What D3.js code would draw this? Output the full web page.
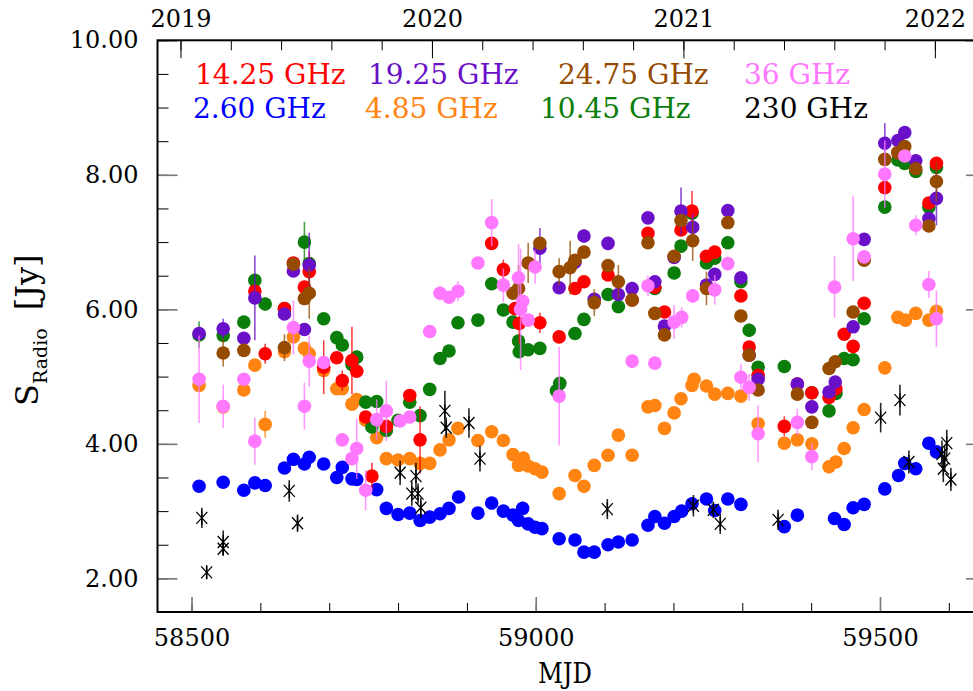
<!DOCTYPE html>
<html>
<head>
<meta charset="utf-8">
<script src="https://cdn.jsdelivr.net/npm/d3@7/dist/d3.min.js"></script>
<style>
body { margin: 0; background: #fff; }
svg text { font-family: "DejaVu Serif", serif; }
</style>
</head>
<body>
<svg width="973" height="691"></svg>
<script>
// [MJD, flux density (Jy), error]
var s260 = [[58511,3.37,0],[58546,3.43,0],[58576,3.31,0],[58592,3.42,0],[58607,3.38,0],[58635,3.64,0],[58648,3.77,0],
  [58664,3.70,0],[58671,3.80,0],[58692,3.70,0],[58711,3.50,0],[58719,3.65,0],[58733,3.48,0],[58740,3.47,0],[58769,3.32,0],
  [58783,3.04,0],[58800,2.95,0],[58817,2.97,0],[58832,2.86,0],[58846,2.91,0],[58861,2.96,0],[58874,3.04,0],[58888,3.21,0],
  [58916,2.97,0],[58936,3.12,0],[58953,3.00,0],[58967,2.94,0],[58975,2.86,0],[58981,3.04,0.1],[58989,2.81,0],[58999,2.76,0],
  [59009,2.74,0],[59034,2.59,0],[59057,2.57,0],[59070,2.39,0],[59085,2.39,0],[59105,2.50,0],[59120,2.54,0],[59140,2.57,0],
  [59163,2.79,0],[59173,2.92,0],[59187,2.82,0],[59201,2.92,0],[59212,3.00,0],[59227,3.11,0],[59248,3.18,0],[59260,3.01,0],
  [59279,3.18,0],[59298,3.10,0],[59361,2.77,0],[59380,2.94,0],[59434,2.89,0],[59448,2.80,0],[59461,3.05,0],[59477,3.10,0],
  [59507,3.33,0],[59527,3.53,0],[59536,3.71,0],[59552,3.63,0],[59571,4.01,0],[59582,3.88,0]];

var s485 = [[58511,4.87,0],[58546,4.55,0],[58576,4.80,0],[58592,5.17,0],[58607,4.29,0.2],[58635,5.37,0],[58648,5.59,0],
  [58664,5.42,0],[58671,5.34,0],[58692,5.09,0],[58711,4.82,0],[58719,4.82,0],[58733,4.59,0],[58740,4.66,0],[58753,4.35,0],
  [58769,4.09,0],[58783,3.78,0],[58800,3.76,0],[58817,3.78,0],[58832,3.71,0],[58846,3.71,0],[58861,3.91,0],[58874,4.06,0],
  [58887,4.23,0],[58916,4.05,0],[58936,4.18,0],[58953,4.05,0],[58967,3.84,0],[58975,3.68,0],[58982,3.79,0],[58989,3.67,0],
  [58999,3.63,0],[59009,3.58,0],[59034,3.26,0],[59057,3.53,0],[59070,3.37,0],[59085,3.68,0],[59105,3.83,0],[59120,4.13,0],
  [59140,3.83,0],[59163,4.55,0],[59173,4.57,0],[59187,4.23,0],[59201,4.46,0],[59211,4.67,0],[59227,4.87,0],[59230,4.96,0],
  [59248,4.86,0],[59260,4.74,0],[59279,4.75,0],[59298,4.71,0],[59323,4.30,0],[59361,4.01,0],[59380,4.06,0],[59401,4.00,0],
  [59426,3.66,0],[59436,3.73,0],[59448,3.93,0],[59461,4.24,0],[59477,4.51,0],[59507,5.13,0],[59526,5.88,0],[59537,5.84,0],
  [59552,5.94,0],[59571,5.84,0],[59582,5.97,0]];

var s1045 = [[58511,5.62,0.2],[58546,5.61,0],[58576,5.81,0],[58592,6.43,0],[58607,6.08,0.1],[58635,6.01,0],[58664,7.00,0.3],
  [58671,6.68,0],[58692,5.86,0],[58711,5.58,0],[58719,5.47,0],[58733,5.18,0],[58740,5.29,0.1],[58753,4.62,0],[58762,4.25,0],
  [58769,4.63,0],[58783,4.20,0],[58800,4.35,0],[58817,4.62,0],[58832,4.42,0],[58846,4.81,0],[58861,5.27,0],[58874,5.38,0],
  [58887,5.80,0],[58916,5.84,0],[58936,6.38,0],[58953,5.99,0],[58967,5.81,0],[58975,5.53,0],[58976,5.37,0],[58989,5.40,0],
  [59006,5.42,0],[59030,4.79,0],[59035,4.90,0],[59057,5.64,0],[59070,5.85,0],[59105,6.22,0],[59120,6.04,0],[59173,6.31,0],
  [59201,6.54,0],[59211,6.94,0],[59227,7.43,0],[59248,6.69,0],[59260,6.76,0],[59279,6.99,0],[59298,6.41,0],[59310,5.69,0.1],
  [59323,5.14,0],[59361,5.15,0],[59401,4.76,0],[59426,4.49,0],[59436,4.75,0],[59448,5.27,0],[59461,5.25,0],[59477,5.86,0],
  [59507,7.52,0],[59526,8.22,0],[59536,8.17,0],[59552,8.05,0],[59571,7.52,0],[59582,8.11,0]];

var s1425 = [[58592,6.27,0],[58607,5.34,0.15],[58635,6.01,0],[58648,6.69,0],[58664,6.33,0],[58671,6.56,0.3],[58692,5.14,0.4],
  [58711,5.28,0],[58719,4.94,0.15],[58733,5.24,0.5],[58740,5.08,0],[58753,4.40,0],[58762,3.52,0.2],[58783,4.26,0],
  [58817,4.72,0],[58832,4.06,0.5],[58936,6.98,0],[58953,6.59,0.15],[58970,6.01,0],[58976,5.79,0.3],[59006,5.80,0.15],
  [59034,5.59,0],[59057,6.31,0],[59070,6.41,0],[59105,6.51,0],[59140,6.14,0],[59163,7.13,0],[59173,6.33,0],[59187,5.96,0],
  [59211,7.18,0],[59227,7.46,0.3],[59248,6.79,0],[59260,6.85,0],[59298,6.20,0],[59310,5.44,0],[59323,5.02,0],[59361,4.26,0.15],
  [59380,4.89,0.1],[59401,4.76,0],[59426,4.69,0],[59436,4.82,0],[59448,5.63,0],[59461,5.45,0],[59477,6.09,0],[59507,7.81,0],
  [59526,8.33,0],[59571,7.58,0],[59582,8.17,0]];

var s1925 = [[58511,5.64,0],[58546,5.71,0.15],[58576,5.57,0],[58592,6.17,0.63],[58635,5.93,0],[58648,6.57,0],[58664,5.70,0],
  [58671,6.66,0.48],[59006,6.91,0.3],[59034,6.32,0],[59057,6.70,0],[59070,7.09,0.1],[59085,6.15,0],[59105,6.98,0.1],
  [59120,6.22,0],[59140,6.31,0.1],[59163,7.36,0],[59173,6.41,0],[59187,5.75,0],[59201,6.77,0],[59211,7.46,0.35],[59228,7.22,0.2],
  [59248,6.36,0],[59260,6.52,0],[59279,7.47,0],[59298,6.47,0],[59310,5.32,0],[59323,4.96,0],[59380,4.89,0],[59401,4.55,0],
  [59426,4.77,0],[59435,4.92,0],[59461,5.74,0],[59477,7.04,0],[59507,8.47,0.3],[59526,8.51,0],[59536,8.63,0],[59552,8.21,0],
  [59571,7.35,0],[59582,7.65,0.4]];

var s2475 = [[58546,5.35,0.2],[58576,5.39,0],[58635,5.43,0.2],[58648,6.67,0],[58664,6.16,0],[58671,6.24,0.38],
  [58967,6.24,0],[58975,6.31,0.35],[58989,6.69,0.3],[59006,6.98,0],[59034,6.56,0.2],[59050,6.62,0.4],[59057,6.73,0],
  [59070,6.85,0],[59085,6.10,0.2],[59105,6.65,0],[59120,6.41,0.25],[59140,6.14,0],[59163,6.99,0],[59173,5.94,0.1],
  [59187,5.62,0],[59201,6.79,0],[59211,7.32,0],[59228,7.02,0.3],[59248,6.31,0.25],[59279,7.29,0],[59298,5.90,0],
  [59310,5.32,0],[59323,4.80,0],[59380,4.74,0],[59401,4.32,0],[59426,5.12,0],[59435,5.22,0],[59461,5.96,0],[59477,6.73,0],
  [59507,8.23,0],[59526,8.33,0],[59536,8.42,0],[59552,8.09,0],[59571,7.24,0],[59582,7.90,0.3]];

var s36 = [[58511,4.96,0.65],[58546,4.56,0.32],[58576,4.96,0],[58592,4.04,0.35],[58648,5.73,0.4],[58664,4.56,0.35],
  [58671,5.23,0.38],[58692,5.21,0],[58719,4.06,0.1],[58733,3.78,0],[58740,3.93,0.45],[58753,3.31,0.3],[58769,4.36,0.3],
  [58783,4.49,0.45],[58803,4.34,0],[58817,4.40,0],[58846,5.67,0],[58861,6.24,0.1],[58874,6.18,0],[58887,6.27,0.15],
  [58916,6.69,0],[58936,7.29,0.35],[58953,6.36,0.25],[58975,6.47,0.5],[58978,6.00,0.9],[58981,6.12,0],[58989,5.84,0],
  [58999,6.63,0.25],[59034,4.71,0.73],[59140,5.23,0.1],[59163,6.35,0.15],[59173,5.20,0.1],[59201,5.81,0.25],[59212,5.88,0.15],
  [59228,6.20,0.1],[59260,6.29,0.22],[59279,6.68,0],[59298,4.99,0.2],[59310,4.84,0.2],[59323,4.15,0.42],[59380,4.32,0.2],
  [59401,3.81,0.2],[59434,6.33,0.46],[59461,7.05,0.63],[59477,6.78,0],[59507,8.01,0.5],[59536,8.28,0],[59552,7.25,0.15],
  [59571,6.37,0.2],[59582,5.86,0.42]];

var s230 = [[58515,2.90,0.15],[58522,2.09,0.1],[58546,2.54,0.17],[58546,2.44,0.1],[58642,3.30,0.16],[58654,2.82,0.13],
  [58803,3.57,0.18],[58820,3.26,0.18],[58826,3.52,0.2],[58829,3.26,0.15],[58833,3.05,0.15],[58868,4.49,0.3],[58870,4.24,0.15],
  [58903,4.31,0.22],[58919,3.78,0.19],[59104,3.03,0.15],[59229,3.08,0.16],[59258,3.02,0.12],[59268,2.81,0.15],
  [59352,2.87,0.15],[59501,4.39,0.22],[59529,4.65,0.23],[59542,3.73,0.17],[59590,3.85,0.2],[59592,3.63,0.2],
  [59594,3.78,0.2],[59597,4.01,0.2],[59603,3.47,0.17]];

var labels = ["2.60 GHz", "4.85 GHz", "10.45 GHz", "14.25 GHz", "19.25 GHz", "24.75 GHz", "36 GHz", "230 GHz"];
var yearTicks = [2019, 2020, 2021, 2022];
var mjdTicks = [58500, 59000, 59500];
var fluxTicks = [2, 4, 6, 8, 10];

var colors = ["#0000ff", "#ff8412", "#0a7d0a", "#ff0000", "#6a10c8", "#964b00", "#ff78ff", "#000000"];
var series = [s260, s485, s1045, s1425, s1925, s2475, s36, s230].map(function(d, i) {
  return {label: labels[i], color: colors[i], data: d, star: i == 7};
});

var svg = d3.select("svg");
var pLeft = 157.5, pRight = 986, pTop = 40.3, pBottom = 612;

var x = d3.scaleLinear().domain([58450.6, 59654]).range([pLeft, pRight]);
var y = d3.scaleLinear().domain([1.5, 10]).range([pBottom, pTop]);
// calendar years on the top axis, 2019.0 = MJD 58484
var yr = d3.scaleLinear()
    .domain([2019 + (58450.6 - 58484) / 365.25, 2019 + (59654 - 58484) / 365.25])
    .range([pLeft, pRight]);

function styleAxis(g, size) {
  g.attr("font-family", "DejaVu Serif").attr("font-size", size);
  g.select(".domain").remove();
  g.selectAll("text").attr("fill", "#000");
}

// minor ticks
svg.append("g").attr("transform", "translate(0," + pBottom + ")")
    .call(d3.axisBottom(x).tickValues(d3.range(58500, 59700, 100)).tickSize(-9).tickFormat(""))
    .call(styleAxis, 24);
svg.append("g").attr("transform", "translate(" + pLeft + ",0)")
    .call(d3.axisLeft(y).tickValues(d3.range(2, 10.01, 0.5)).tickSize(-11).tickFormat(""))
    .call(styleAxis, 24);
svg.append("g").attr("transform", "translate(" + pRight + ",0)")
    .call(d3.axisRight(y).tickValues(d3.range(2, 10.01, 0.5)).tickSize(-11).tickFormat(""))
    .call(styleAxis, 24);
svg.append("g").attr("transform", "translate(0," + pTop + ")")
    .call(d3.axisTop(yr).tickValues(d3.range(2019, 2022.3, 0.2)).tickSize(-10).tickFormat(""))
    .call(styleAxis, 24);

// major ticks + labels
svg.append("g").attr("transform", "translate(0," + pBottom + ")")
    .call(d3.axisBottom(x).tickValues(mjdTicks).tickSize(-15).tickPadding(17).tickFormat(d3.format("d")))
    .call(styleAxis, 24)
    .selectAll("line").attr("stroke", "#777").attr("stroke-width", 1.6);
svg.append("g").attr("transform", "translate(" + pLeft + ",0)")
    .call(d3.axisLeft(y).tickValues(fluxTicks).tickSize(-20).tickPadding(19).tickFormat(d3.format(".2f")))
    .call(styleAxis, 24)
    .selectAll("line").attr("stroke", "#777").attr("stroke-width", 1.6);
svg.append("g").attr("transform", "translate(" + pRight + ",0)")
    .call(d3.axisRight(y).tickValues(fluxTicks).tickSize(-20).tickFormat(""))
    .call(styleAxis, 24)
    .selectAll("line").attr("stroke", "#777").attr("stroke-width", 1.6);
svg.append("g").attr("transform", "translate(0," + pTop + ")")
    .call(d3.axisTop(yr).tickValues(yearTicks).tickSize(-18).tickPadding(13).tickFormat(d3.format("d")))
    .call(styleAxis, 24);

// frame
svg.append("rect")
    .attr("x", pLeft).attr("y", pTop)
    .attr("width", pRight - pLeft).attr("height", pBottom - pTop)
    .attr("fill", "none").attr("stroke", "#000").attr("stroke-width", 2);

// axis titles
svg.append("text")
    .attr("x", 565).attr("y", 683)
    .attr("text-anchor", "middle").attr("font-size", 28)
    .attr("textLength", 54).attr("lengthAdjust", "spacingAndGlyphs")
    .text("MJD");

var yl = svg.append("text")
    .attr("transform", "translate(38,406) rotate(-90)")
    .attr("font-size", 32);
yl.append("tspan").text("S");
yl.append("tspan").attr("font-size", 19).attr("dy", 9).text("Radio");
yl.append("tspan").attr("dy", -9).attr("dx", 18).text("[Jy]");

// data
var plot = svg.append("g");
series.forEach(function(s) {
  var g = plot.append("g");
  g.selectAll("line.err")
    .data(s.data.filter(function(d) { return d[2] > 0; }))
    .enter().append("line")
      .attr("class", "err")
      .attr("x1", function(d) { return x(d[0]); })
      .attr("x2", function(d) { return x(d[0]); })
      .attr("y1", function(d) { return y(d[1] - d[2]); })
      .attr("y2", function(d) { return y(d[1] + d[2]); })
      .attr("stroke", s.color)
      .attr("stroke-opacity", s.star ? 0.85 : 0.75)
      .attr("stroke-width", 1.6);

  if (s.star) {
    g.selectAll("path.star")
      .data(s.data)
      .enter().append("path")
        .attr("class", "star")
        .attr("transform", function(d) { return "translate(" + x(d[0]) + "," + y(d[1]) + ")"; })
        .attr("d", "M0,-7L0,7M-5.5,-6L5.5,6M-5.5,6L5.5,-6")
        .attr("stroke", s.color)
        .attr("stroke-width", 1.3)
        .attr("fill", "none");
  } else {
    g.selectAll("circle")
      .data(s.data)
      .enter().append("circle")
        .attr("cx", function(d) { return x(d[0]); })
        .attr("cy", function(d) { return y(d[1]); })
        .attr("r", 6.8)
        .attr("fill", s.color);
  }
});

// legend, two rows of coloured labels
var legendPos = [[193, 118], [365, 118], [540, 118], [195, 84], [368, 84], [558, 84], [744, 84], [744, 118]];
svg.append("g").selectAll("text")
  .data(series)
  .enter().append("text")
    .attr("x", function(d, i) { return legendPos[i][0]; })
    .attr("y", function(d, i) { return legendPos[i][1]; })
    .attr("font-size", 28)
    .attr("fill", function(d) { return d.color; })
    .text(function(d) { return d.label; });
</script>
</body>
</html>
